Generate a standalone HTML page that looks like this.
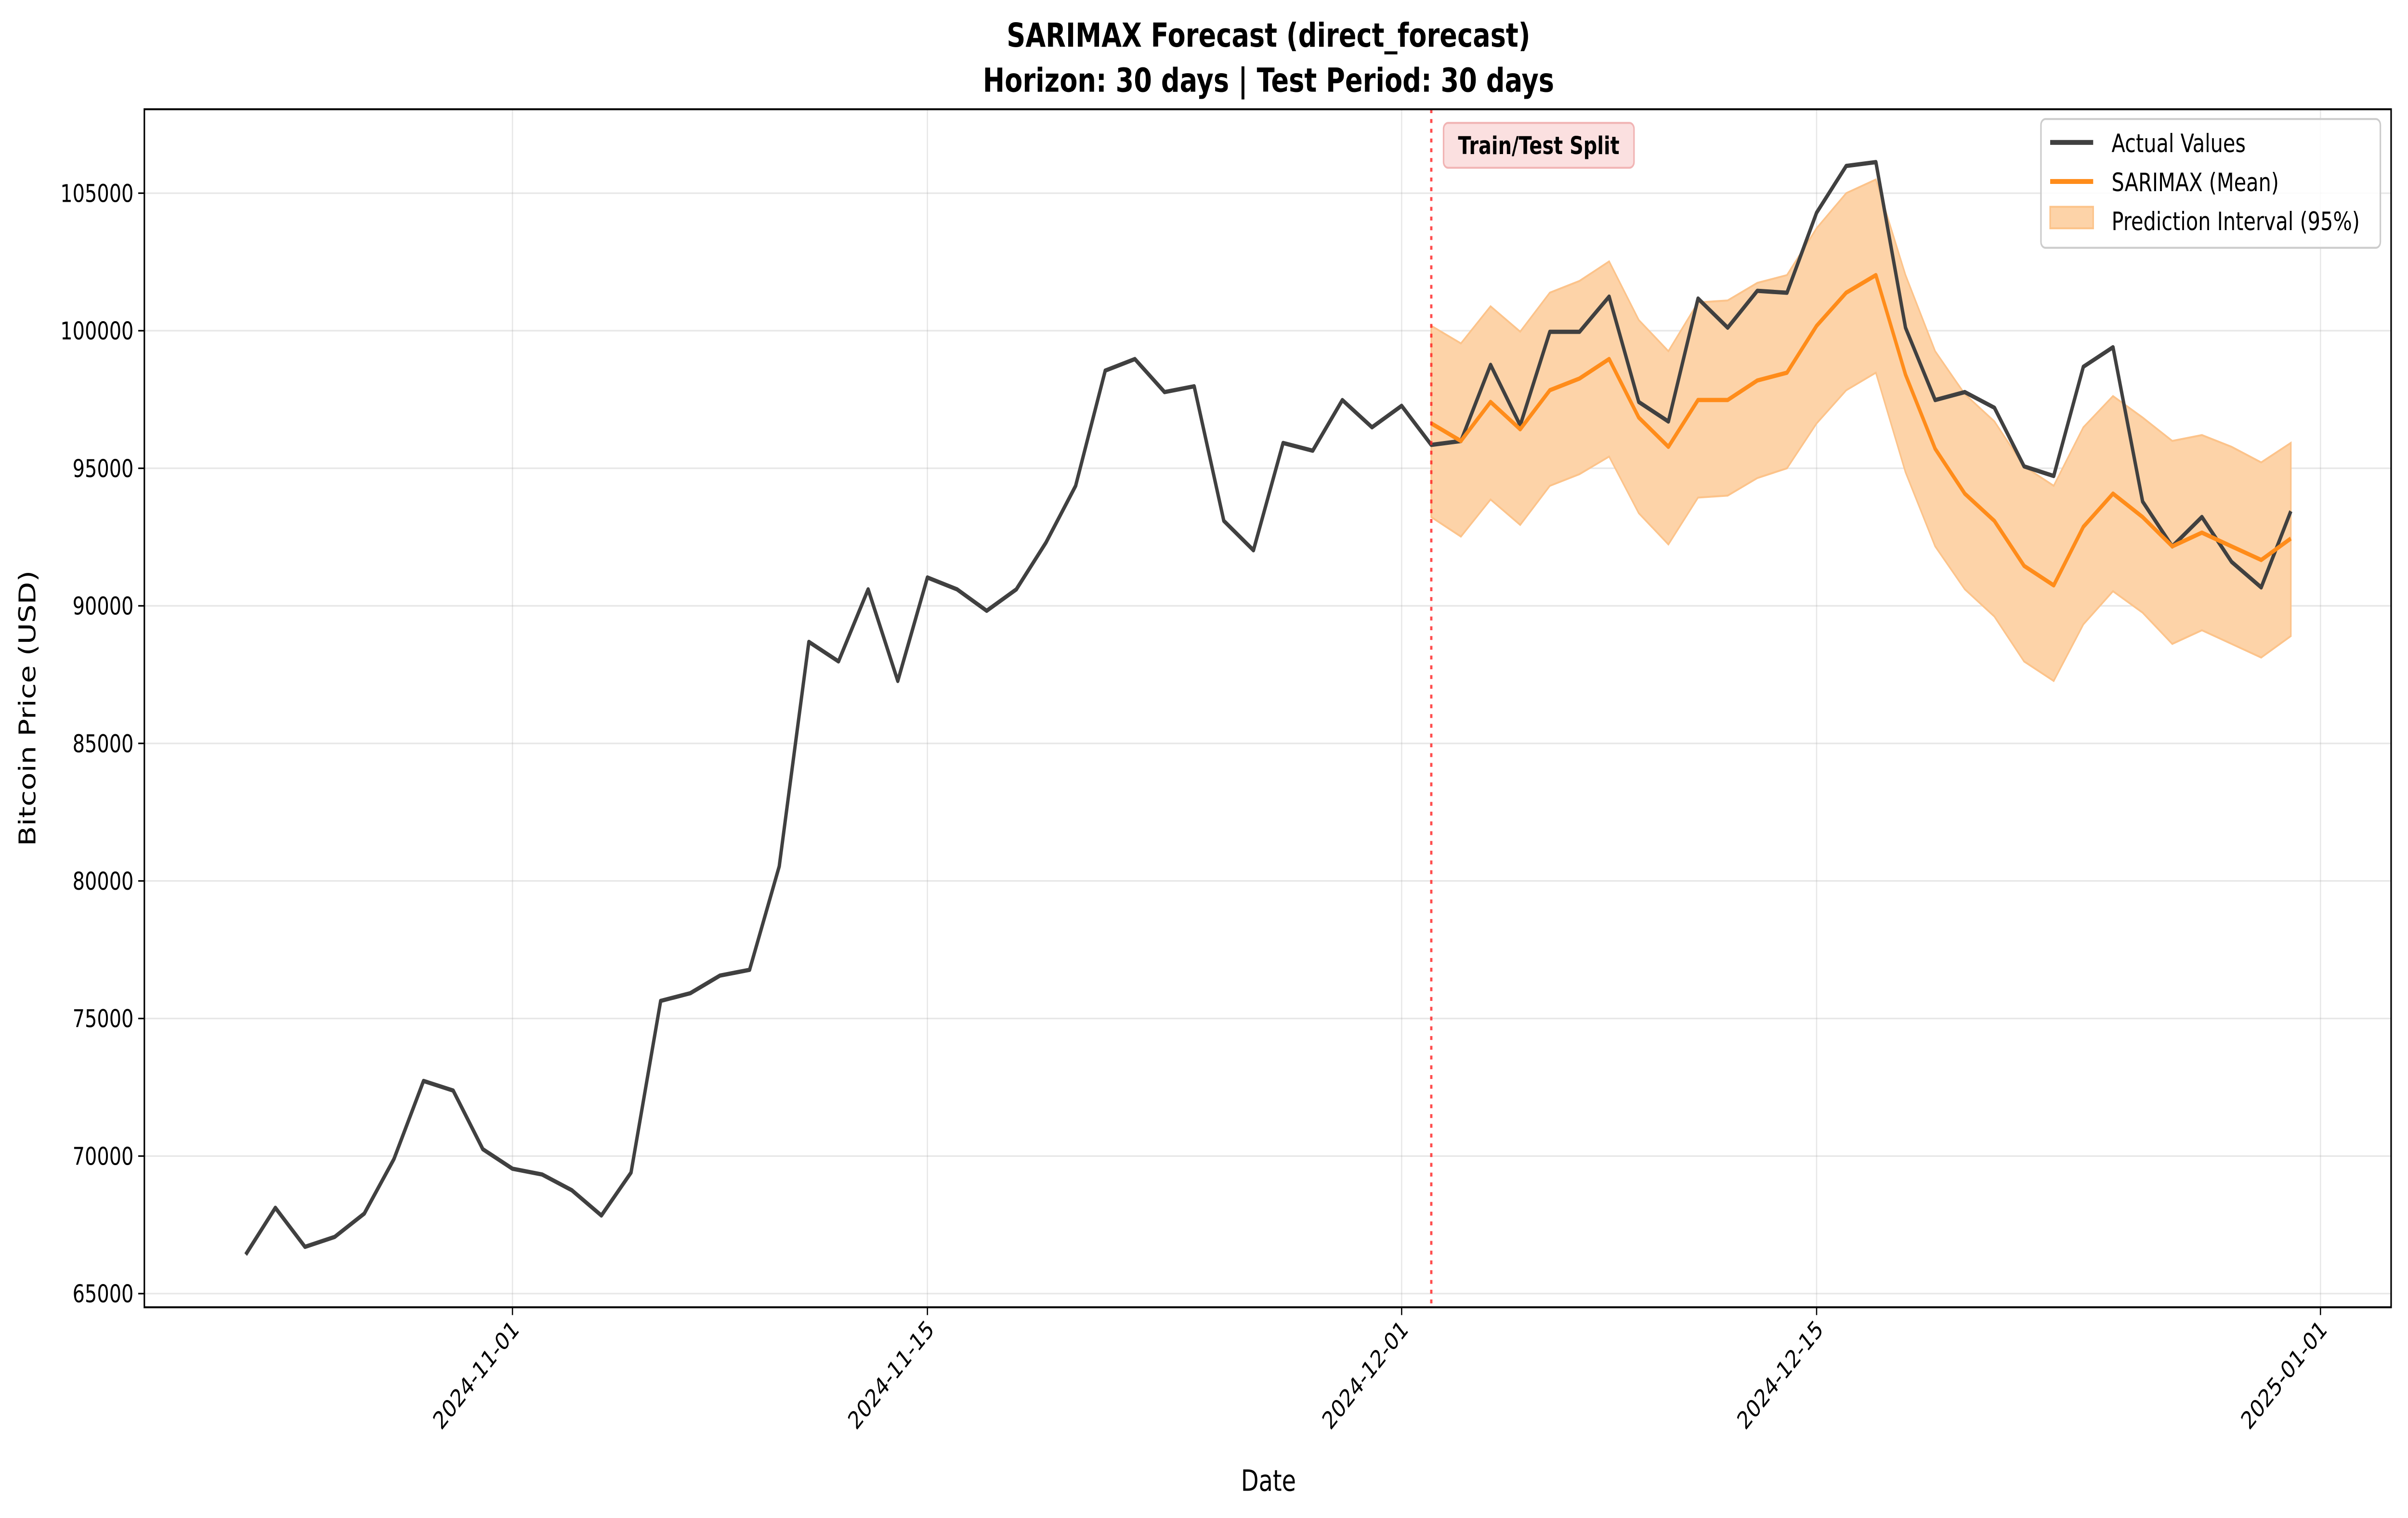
<!DOCTYPE html>
<html><head><meta charset="utf-8"><style>
html,body{margin:0;padding:0;background:#fff;width:100%;height:100%;overflow:hidden}
svg{display:block;width:100vw;height:100vh}
text{font-family:"DejaVu Sans","Liberation Sans",sans-serif}
</style></head><body>
<svg id="chart" viewBox="0 0 1568 778" preserveAspectRatio="none" xmlns="http://www.w3.org/2000/svg">
<rect width="1568" height="778" fill="#fff"/>
<text x="826" y="24" font-size="17" font-weight="bold" text-anchor="middle">SARIMAX Forecast (direct_forecast)</text>
<text x="826" y="47" font-size="17" font-weight="bold" text-anchor="middle">Horizon: 30 days | Test Period: 30 days</text>
<g id="grid"></g>
<g id="band"></g>
<g id="lines"></g>
<g id="axes"></g>
<text x="826" y="764" font-size="15" text-anchor="middle">Date</text>
<text transform="translate(23,363) rotate(-90)" font-size="15" text-anchor="middle">Bitcoin Price (USD)</text>
<g>
<rect x="940" y="63" width="124" height="23" rx="3" fill="#fbe0e0" stroke="#f1b4b4" stroke-width="1"/>
<text x="1002" y="79" font-size="12.5" font-weight="bold" text-anchor="middle">Train/Test Split</text>
</g>
<g>
<rect x="1329" y="61" width="221" height="66" rx="3" fill="#fff" fill-opacity="0.85" stroke="#ccc"/>
<line x1="1335" y1="73" x2="1363" y2="73" stroke="#404040" stroke-width="2.5"/>
<text x="1375" y="78" font-size="13">Actual Values</text>
<line x1="1335" y1="93" x2="1363" y2="93" stroke="#ff8c1a" stroke-width="2.5"/>
<text x="1375" y="98" font-size="13">SARIMAX (Mean)</text>
<rect x="1335" y="106" width="28" height="11" fill="#fdd3a8" stroke="#fcc38a"/>
<text x="1375" y="118" font-size="13">Prediction Interval (95%)</text>
</g>
</svg>
<script>
const trainValues=[66420,68120,66700,67060,67910,69890,72730,72380,70250,69540,69330,68760,67840,69400,75640,75920,76560,76770,80530,88690,87980,90600,87270,91030,90600,89820,90600,92300,94360,98550,98970,97770,97980,93090,92020,95920,95640,97480,96490,97270];
const testValues=[95850,95990,98760,96560,99960,99960,101240,97410,96700,101170,100110,101450,101380,104290,105990,106130,100110,97480,97770,97200,95070,94720,98690,99400,93790,92160,93230,91600,90670,93440];
const meanValues=[96631,95993,97411,96418,97837,98262,98972,96844,95780,97482,97482,98191,98475,100177,101383,102021,98404,95709,94078,93085,91454,90745,92872,94078,93227,92163,92660,92163,91667,92447];
const upperValues=[100177,99539,100887,99965,101383,101809,102518,100390,99255,101028,101099,101738,102021,103723,105000,105496,102021,99255,97695,96702,95071,94362,96489,97624,96844,95993,96206,95780,95213,95922];
const lowerValues=[93227,92518,93865,92943,94362,94787,95426,93369,92234,93936,94007,94645,95000,96631,97837,98475,94858,92163,90603,89610,87979,87270,89326,90532,89752,88617,89113,88617,88121,88901];
const yTicks=[65000,70000,75000,80000,85000,90000,95000,100000,105000];
const xTickLabels=["2024-11-01","2024-11-15","2024-12-01","2024-12-15","2025-01-01"];
const xTickDays=[9,23,39,53,70];
const startDay=0, splitDay=40;

const L=94,R=1557,T=56,B=670;
const dayW=19.3, x0=160;
function xs(d){return x0+d*dayW;}
function ys(v){return 99+(105000-v)/5000*70.5;}
const NS="http://www.w3.org/2000/svg";
function mk(tag,attrs,parent){const e=document.createElementNS(NS,tag);for(const k in attrs)e.setAttribute(k,attrs[k]);parent.appendChild(e);return e;}
const grid=document.getElementById('grid'),axes=document.getElementById('axes'),band=document.getElementById('band'),lines=document.getElementById('lines');
yTicks.forEach(v=>{
  const y=ys(v);
  const g=mk('line',{x1:L,x2:R,y1:y,y2:y,stroke:'#b0b0b0','stroke-opacity':0.3,'stroke-width':0.8},grid);
  
  
  mk('line',{x1:L-4,x2:L,y1:y,y2:y,stroke:'#000','stroke-width':0.8},axes);
  const t=mk('text',{x:L-7,y:y+4.5,'font-size':12.5,'text-anchor':'end'},axes);
  t.textContent=v;
  
  
});
xTickLabels.forEach((lab,i)=>{
  const x=xs(xTickDays[i]);
  const g=mk('line',{x1:x,x2:x,y1:T,y2:B,stroke:'#b0b0b0','stroke-opacity':0.3,'stroke-width':0.8},grid);
  
  
  mk('line',{x1:x,x2:x,y1:B,y2:B+4,stroke:'#000','stroke-width':0.8},axes);
  const t=mk('text',{transform:`translate(${x+5},${B+12}) rotate(-45)`,'font-size':12.5,'text-anchor':'end'},axes);
  t.textContent=lab;
  
  
});
const fr=mk('rect',{x:L,y:T,width:R-L,height:B-T,fill:'none',stroke:'#000','stroke-width':1},axes);


let pts=upperValues.map((v,i)=>xs(splitDay+i)+','+ys(v));
for(let i=lowerValues.length-1;i>=0;i--)pts.push(xs(splitDay+i)+','+ys(lowerValues[i]));
const bp=mk('polygon',{points:pts.join(' '),fill:'#fdd3a8',stroke:'#fcc38a','stroke-width':1},band);


const all=trainValues.concat(testValues);
const ap=mk('polyline',{points:all.map((v,i)=>xs(startDay+i)+','+ys(v)).join(' '),fill:'none',stroke:'#404040','stroke-width':2.2,'stroke-linejoin':'round'},lines);


const mp=mk('polyline',{points:meanValues.map((v,i)=>xs(splitDay+i)+','+ys(v)).join(' '),fill:'none',stroke:'#ff8c1a','stroke-width':2.2,'stroke-linejoin':'round'},lines);


const sx=xs(splitDay);
const sl=mk('line',{x1:sx,x2:sx,y1:T,y2:B,stroke:'#ff2020','stroke-width':1.5,'stroke-dasharray':'2,3','stroke-opacity':0.8},lines);


</script>
</body></html>
